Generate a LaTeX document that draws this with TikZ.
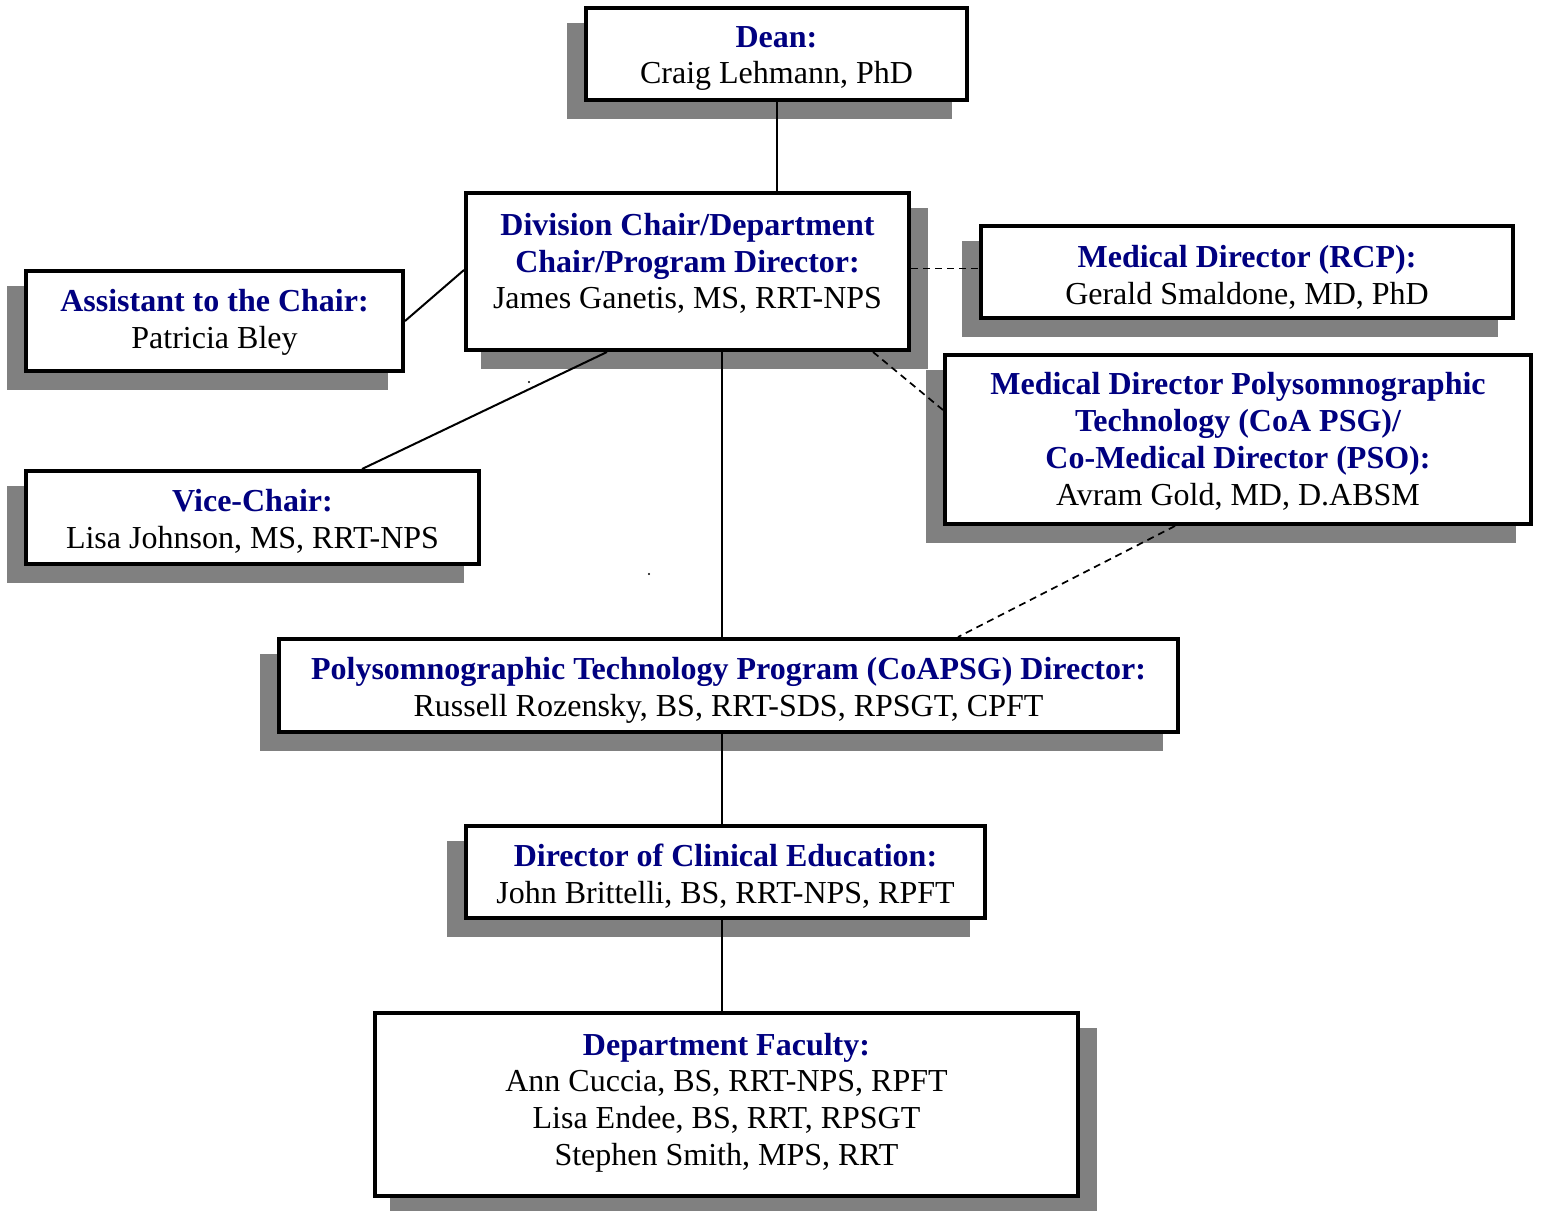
\documentclass[tikz,border=0pt]{standalone}
\usepackage{fontspec}
\setmainfont{Liberation Serif}
\usetikzlibrary{calc}
\definecolor{navy}{HTML}{000080}
\definecolor{shadowc}{HTML}{808080}
\pgfdeclarelayer{bg}
\pgfsetlayers{bg,main}
\tikzset{
  orgbox/.style={draw, line width=4pt, fill=white, inner sep=0pt},
  orgtxt/.style={align=center, inner sep=0pt, font=\fontsize{32}{36.8}\selectfont},
  conn/.style={line width=2pt},
  dconn/.style={line width=1.7pt, dash pattern=on 7pt off 5pt},
}
\newcommand\hd[1]{\textbf{\color{navy}#1}}
% name, x1, y1, x2, y2, shadow dx
\newcommand\orgboxdraw[6]{%
  \begin{pgfonlayer}{bg}
    \fill[shadowc] ({#2+#6},{#3+17}) rectangle ({#4+#6},{#5+17});
  \end{pgfonlayer}
  \node[orgbox, minimum width={#4-#2-4}, minimum height={#5-#3-4}] (#1) at ({(#2+#4)/2},{(#3+#5)/2}) {};
}
\begin{document}
\begin{tikzpicture}[x=1pt,y=-1pt]
\useasboundingbox (0,0) rectangle (1541,1210);
\orgboxdraw{dean}{584}{6}{969}{102}{-17}
\orgboxdraw{div}{464}{191}{911}{352}{17}
\orgboxdraw{rcp}{979}{224}{1515}{320}{-17}
\orgboxdraw{assist}{24}{269}{405}{373}{-17}
\orgboxdraw{psg}{943}{353}{1533}{526}{-17}
\orgboxdraw{vice}{24}{469}{481}{566}{-17}
\orgboxdraw{poly}{277}{637}{1180}{734}{-17}
\orgboxdraw{clin}{464}{824}{987}{920}{-17}
\orgboxdraw{fac}{373}{1011}{1080}{1198}{17}

\node[orgtxt] (deanT) at ([yshift=-4.5]dean.center) {\hd{Dean:}\\Craig Lehmann, PhD};
\node[orgtxt] (divT) at ([yshift=8]div.center) {\hd{Division Chair/Department}\\\hd{Chair/Program Director:}\\James Ganetis, MS, RRT-NPS};
\node[orgtxt] (rcpT) at ([yshift=-5]rcp.center) {\hd{Medical Director (RCP):}\\Gerald Smaldone, MD, PhD};
\node[orgtxt] (assistT) at ([yshift=-1]assist.center) {\hd{Assistant to the Chair:}\\Patricia Bley};
\node[orgtxt] (psgT) at ([yshift=-2]psg.center) {\hd{Medical Director Polysomnographic}\\\hd{Technology (CoA PSG)/}\\\hd{Co-Medical Director (PSO):}\\Avram Gold, MD, D.ABSM};
\node[orgtxt] (viceT) at ([yshift=-4]vice.center) {\hd{Vice-Chair:}\\Lisa Johnson, MS, RRT-NPS};
\node[orgtxt] (polyT) at ([yshift=-4.5]poly.center) {\hd{Polysomnographic Technology Program (CoAPSG) Director:}\\Russell Rozensky, BS, RRT-SDS, RPSGT, CPFT};
\node[orgtxt] (clinT) at ([yshift=-4]clin.center) {\hd{Director of Clinical Education:}\\John Brittelli, BS, RRT-NPS, RPFT};
\node[orgtxt] (facT) at ([yshift=2]fac.center) {\hd{Department Faculty:}\\Ann Cuccia, BS, RRT-NPS, RPFT\\Lisa Endee, BS, RRT, RPSGT\\Stephen Smith, MPS, RRT};

\begin{pgfonlayer}{bg}
\draw[conn] (dean.south) -- (dean.south |- div.north);
\draw[conn] (assist.east) -- ([yshift=1.5]div.west);
\draw[conn] ([xshift=-80.5]div.south) -- ([xshift=109.5]vice.north);
\draw[conn] ([xshift=34.5]div.south) coordinate (spine) -- (spine |- poly.north);
\draw[conn] (spine |- poly.south) -- (spine |- clin.north);
\draw[conn] (spine |- clin.south) -- (spine |- fac.north);
\draw[dconn] ([yshift=3]div.east) -- ([yshift=3]div.east -| rcp.west);
\draw[dconn] ([xshift=185.5]div.south) -- ([yshift=29.5]psg.west);
\draw[dconn] ([xshift=-63]psg.south) -- ([xshift=229.5]poly.north);
\end{pgfonlayer}
\fill (529,382) circle (1.2);
\fill (649,574) circle (1.2);
\end{tikzpicture}
\end{document}
